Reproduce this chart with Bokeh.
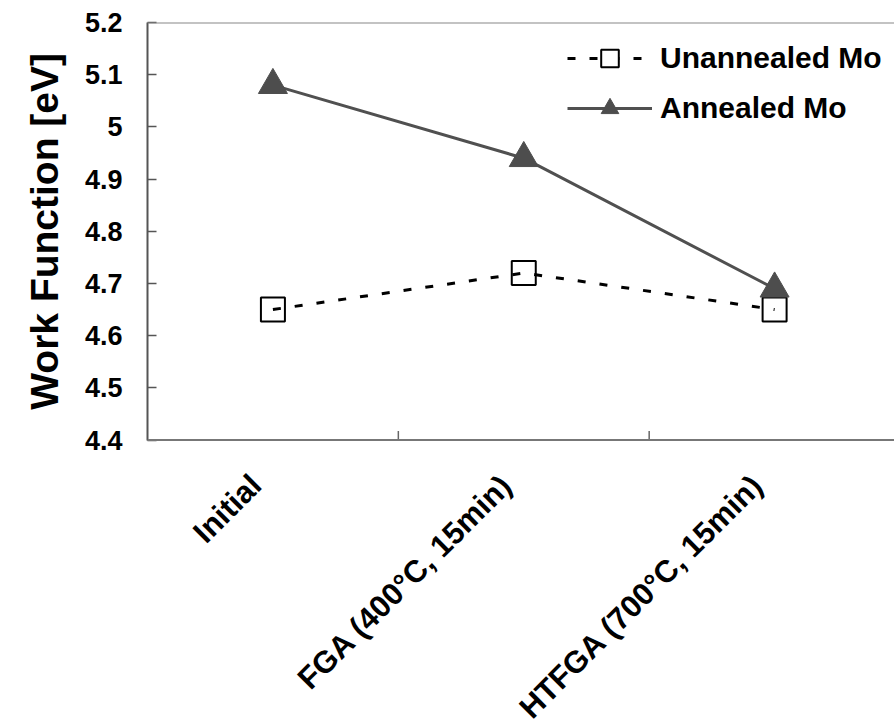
from bokeh.plotting import figure
from bokeh.models import (Range1d, LinearAxis, FixedTicker, CustomJSTickFormatter,
                          Legend, LegendItem, Span, ColumnDataSource, Label, Title)
from bokeh.embed import file_html
from bokeh.resources import INLINE
from math import pi

# Work function of Mo gate after each anneal step
categories = ["Initial", "FGA (400°C, 15min)", "HTFGA (700°C, 15min)"]
unannealed_mo = [4.65, 4.72, 4.65]
annealed_mo = [5.08, 4.94, 4.69]
y_ticks = [4.4, 4.5, 4.6, 4.7, 4.8, 4.9, 5.0, 5.1, 5.2]

FONT = "Liberation Sans"
W, H = 894, 724
TOP, AXIS_Y = 22, 439.5          # pixel rows of the 5.2 and 4.4 lines

# the frame runs to the bottom of the canvas so the slanted category
# names can sit below the value axis; extend the range accordingly
px_per_unit = (AXIS_Y - TOP) / (y_ticks[-1] - y_ticks[0])
y_lo = y_ticks[0] - (H - AXIS_Y) / px_per_unit

# one unit per category, points sit in the middle of each slot
xs = [i + 0.5 for i in range(len(categories))]
bounds_x = [float(i) for i in range(1, len(categories))]
src = ColumnDataSource(dict(x=xs, un=unannealed_mo, an=annealed_mo))

p = figure(width=W, height=H,
           x_range=Range1d(0, 2.978), y_range=Range1d(y_lo, y_ticks[-1]),
           x_axis_type=None, y_axis_type=None,
           output_backend="svg", toolbar_location=None,
           min_border_left=147, min_border_right=0,
           min_border_top=TOP, min_border_bottom=0)
p.outline_line_color = None
p.background_fill_color = "white"
p.border_fill_color = "white"

# y axis, drawn only over the value span
yax = LinearAxis(ticker=FixedTicker(ticks=y_ticks, minor_ticks=[]),
                 bounds=(y_ticks[0], y_ticks[-1]),
                 formatter=CustomJSTickFormatter(code="return String(Math.round(tick*10)/10)"))
yax.major_label_text_font = FONT
yax.major_label_text_font_style = "bold"
yax.major_label_text_font_size = "27px"
yax.major_label_text_color = "black"
yax.major_label_standoff = 25
yax.major_tick_in = 9
yax.major_tick_out = 0
yax.major_tick_line_color = "#555555"
yax.major_tick_line_width = 1.5
yax.minor_tick_line_color = None
yax.axis_line_color = "#555555"
yax.axis_line_width = 2
p.add_layout(yax, "left")

# y title: starts from the bottom of the panel, lifted so that it is
# centred on the 4.4-5.2 span
title_len = 357
span_mid = (AXIS_Y + TOP) / 2
p.add_layout(Title(text="Work Function [eV]", align="left", vertical_align="top",
                   offset=H - (span_mid + title_len / 2), standoff=28,
                   text_font=FONT, text_font_style="bold",
                   text_font_size="39px", text_color="black"), "left")

# category axis line and the short marks on the slot boundaries
p.add_layout(Span(location=y_ticks[0], dimension="width",
                  line_color="#777777", line_width=2))
tick_len = 9 / px_per_unit
p.segment(x0=bounds_x, x1=bounds_x,
          y0=[y_ticks[0]] * len(bounds_x), y1=[y_ticks[0] + tick_len] * len(bounds_x),
          line_color="#666666", line_width=1.5)

# top border of the plot area
p.add_layout(Span(location=y_ticks[-1], dimension="width",
                  line_color="#888888", line_width=2))

# slanted category names, ending just left of each slot centre
for x, name in zip(xs, categories):
    p.add_layout(Label(x=x, y=y_ticks[0], x_offset=-17, y_offset=-40,
                       text=name, angle=pi / 4,
                       text_align="right", text_baseline="middle",
                       text_font=FONT, text_font_style="bold",
                       text_font_size="31px", text_color="black"))

# series
sq = p.scatter("x", "un", source=src, marker="square", size=24,
               fill_color="white", line_color="black", line_width=2)
dl = p.line("x", "un", source=src, line_color="black", line_width=3,
            line_dash="8 14")
al = p.line("x", "an", source=src, line_color="#505050", line_width=3)
tr = p.scatter("x", "an", source=src, marker="triangle", size=29,
               fill_color="#4d4d4d", line_color="#4d4d4d", line_width=1)

legend = Legend(items=[LegendItem(label="Unannealed Mo", renderers=[dl, sq]),
                       LegendItem(label="Annealed Mo", renderers=[al, tr])],
                location=(420, 594))
legend.padding = 0
legend.margin = 0
legend.spacing = 6
legend.glyph_width = 85
legend.glyph_height = 44
legend.label_height = 40
legend.label_standoff = 8
legend.label_text_font = FONT
legend.label_text_font_style = "bold"
legend.label_text_font_size = "30px"
legend.label_text_color = "black"
legend.border_line_color = None
legend.background_fill_alpha = 0
p.add_layout(legend, "center")

open("out.html", "w").write(file_html(p, INLINE))
